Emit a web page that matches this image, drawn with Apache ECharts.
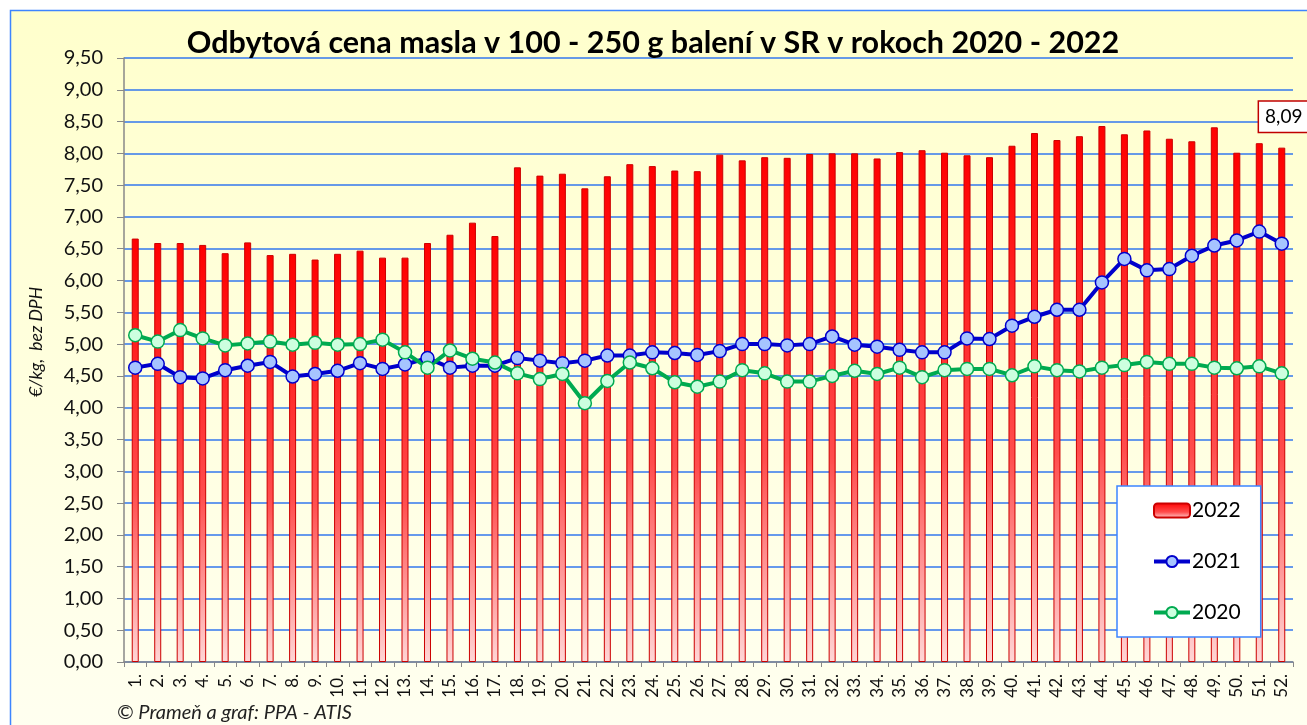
<!DOCTYPE html>
<html><head><meta charset="utf-8">
<script src="https://cdn.jsdelivr.net/npm/echarts@6/dist/echarts.min.js"></script>
<style>html,body{margin:0;padding:0;background:#fff}#c{width:1307px;height:725px}</style>
</head><body><div id="c"></div>
<script>
const weeks = Array.from({length:52},(_,i)=>(i+1)+'.');
const y2022 = [6.66,6.59,6.59,6.56,6.43,6.60,6.40,6.42,6.33,6.42,6.47,6.36,6.36,6.59,6.72,6.91,6.70,7.78,7.65,7.68,7.45,7.64,7.83,7.80,7.73,7.72,7.98,7.89,7.94,7.93,7.99,8.00,8.00,7.92,8.02,8.05,8.01,7.97,7.94,8.12,8.32,8.21,8.27,8.43,8.30,8.36,8.23,8.19,8.41,8.01,8.16,8.09];
const y2021 = [4.63,4.69,4.48,4.46,4.59,4.66,4.72,4.49,4.53,4.58,4.70,4.61,4.68,4.78,4.63,4.66,4.66,4.78,4.74,4.70,4.74,4.82,4.82,4.87,4.86,4.83,4.89,5.00,5.00,4.98,5.00,5.12,4.99,4.96,4.91,4.87,4.87,5.09,5.08,5.29,5.43,5.54,5.54,5.97,6.34,6.16,6.18,6.39,6.55,6.63,6.77,6.58];
const y2020 = [5.14,5.04,5.22,5.09,4.98,5.01,5.04,4.99,5.02,4.99,5.00,5.07,4.87,4.63,4.90,4.77,4.71,4.54,4.45,4.53,4.07,4.42,4.71,4.62,4.40,4.33,4.41,4.59,4.54,4.41,4.41,4.50,4.58,4.53,4.63,4.48,4.59,4.61,4.61,4.51,4.65,4.59,4.57,4.63,4.67,4.72,4.69,4.69,4.63,4.62,4.65,4.54];
const seriesNames = ['2022','2021','2020'];
const titleText = 'Odbytová cena masla v 100 - 250 g balení v SR v rokoch 2020 - 2022';
const yName = '€/kg,  bez DPH';
const sourceText = '© Prameň a graf: PPA - ATIS';

const FONT = 'Lato, "Open Sans", sans-serif';
const chart = echarts.init(document.getElementById('c'));
const fmt = v => v.toFixed(2).replace('.', ',');
const barData = y2022.map((v,i)=> i===y2022.length-1 ? {value:v,label:{show:true,position:'top',distance:16,formatter:p=>fmt(p.value),backgroundColor:'#fff',borderColor:'#c00000',borderWidth:1.5,padding:[6,6,5,6],fontSize:19,color:'#000',fontFamily:FONT,offset:[2,0]}} : v);
const barGrad = new echarts.graphic.LinearGradient(0,0,0,1,[{offset:0,color:'#ff0000'},{offset:0.6,color:'#ff4d4d'},{offset:1,color:'#ffd6d6'}]);
const lineColors = {'2021':['#0000cc','#a6c4ff'],'2020':['#00aa50','#ccffdf']};
chart.setOption({
  animation:false,
  graphic:[
    {type:'rect',z:-10,shape:{x:10.5,y:10.5,width:1400,height:800},style:{fill:new echarts.graphic.LinearGradient(0,0,0,1,[{offset:0,color:'#ffffcc'},{offset:1,color:'#fffff4'}]),stroke:'#3d85ff',lineWidth:1.5}},
    {type:'text',left:117,top:703,style:{text:sourceText,font:'italic 20px '+FONT,fill:'#222'}},
    {type:'text',x:36,y:342,rotation:Math.PI/2,style:{text:yName,font:'italic 17.5px '+FONT,fill:'#111',align:'center',verticalAlign:'middle'}}
  ],
  title:{text:titleText,left:648,textAlign:'center',top:23,textStyle:{fontFamily:FONT,fontWeight:'bold',fontSize:30.5,color:'#000'}},
  grid:{left:124,right:14,top:58,bottom:63},
  legend:{
    orient:'vertical',left:1117,top:486,width:158,height:152,
    backgroundColor:'#fff',borderColor:'#3d85ff',borderWidth:1.5,
    padding:[14,20,14,35],itemGap:30,itemWidth:36,itemHeight:14,
    textStyle:{fontFamily:FONT,fontSize:21,color:'#000',padding:[0,0,0,-3]},
    data:[
      {name:'2022'},
      {name:'2021',lineStyle:{width:4,color:lineColors['2021'][0]}},
      {name:'2020',lineStyle:{width:4,color:lineColors['2020'][0]}}
    ]
  },
  xAxis:{type:'category',data:weeks,
    axisLine:{lineStyle:{color:'#888',width:1.5}},
    axisTick:{show:true,length:5,lineStyle:{color:'#888'}},
    axisLabel:{rotate:90,fontFamily:FONT,fontSize:17,color:'#111',margin:12}},
  yAxis:{type:'value',min:0,max:9.5,interval:0.5,
    axisLine:{show:true,lineStyle:{color:'#888',width:1.5}},
    axisTick:{show:true,length:7,lineStyle:{color:'#888'}},
    axisLabel:{formatter:fmt,fontFamily:FONT,fontSize:20,color:'#111',margin:21},
    splitLine:{lineStyle:{color:'#3377ee',width:1.5}}},
  series:[
    {name:'2022',type:'bar',data:barData,barWidth:7,
     itemStyle:{color:barGrad,borderColor:'#cc0000',borderWidth:1}},
    {name:'2021',type:'line',data:y2021,symbol:'circle',symbolSize:13,
     lineStyle:{color:lineColors['2021'][0],width:4},
     itemStyle:{color:lineColors['2021'][1],borderColor:lineColors['2021'][0],borderWidth:1.5}},
    {name:'2020',type:'line',data:y2020,symbol:'circle',symbolSize:13,
     lineStyle:{color:lineColors['2020'][0],width:4},
     itemStyle:{color:lineColors['2020'][1],borderColor:lineColors['2020'][0],borderWidth:1.5}}
  ]
});
</script></body></html>
